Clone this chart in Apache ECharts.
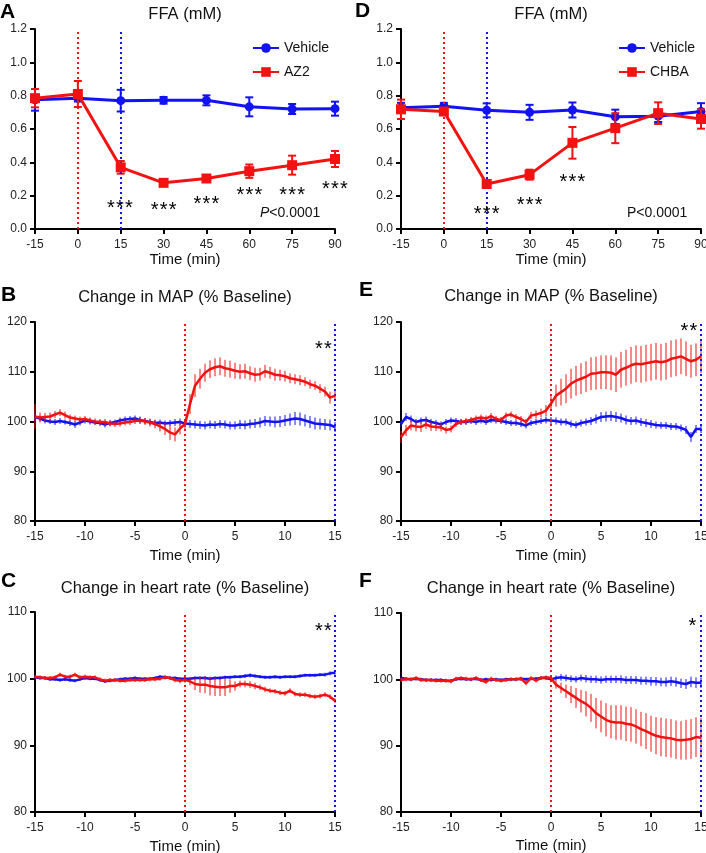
<!DOCTYPE html>
<html><head><meta charset="utf-8">
<script src="https://cdn.jsdelivr.net/npm/echarts@6/dist/echarts.min.js"></script>
<style>html,body{margin:0;padding:0;background:#fff}#c{width:706px;height:853px}</style>
</head><body><div id="c"></div><script>
const FONT = 'Liberation Sans, Arial, Helvetica, sans-serif';
const BLUE = '#1212f2';
const RED = '#f21212';

// ---- FFA panels (A, D) ----
const ffaTimes = [-15, 0, 15, 30, 45, 60, 75, 90];
const ffaVehA = [0.775, 0.785, 0.77, 0.772, 0.772, 0.733, 0.72, 0.722];
const ffaVehAErr = [0.065, 0.02, 0.065, 0.02, 0.03, 0.057, 0.03, 0.042];
const ffaAZ2 = [0.785, 0.81, 0.37, 0.277, 0.303, 0.347, 0.383, 0.42];
const ffaAZ2Err = [0.055, 0.078, 0.038, 0.012, 0.012, 0.04, 0.057, 0.048];
const ffaVehD = [0.727, 0.737, 0.712, 0.70, 0.714, 0.673, 0.677, 0.705];
const ffaVehDErr = [0.03, 0.02, 0.042, 0.045, 0.045, 0.043, 0.035, 0.05];
const ffaCHBA = [0.718, 0.705, 0.27, 0.326, 0.517, 0.605, 0.695, 0.66];
const ffaCHBAErr = [0.058, 0.02, 0.015, 0.03, 0.095, 0.09, 0.065, 0.058];

// ---- time course panels (B, C, E, F) ----
const times = [-15,-14.5,-14,-13.5,-13,-12.5,-12,-11.5,-11,-10.5,-10,-9.5,-9,-8.5,-8,-7.5,-7,-6.5,-6,-5.5,-5,-4.5,-4,-3.5,-3,-2.5,-2,-1.5,-1,-0.5,0,0.5,1,1.5,2,2.5,3,3.5,4,4.5,5,5.5,6,6.5,7,7.5,8,8.5,9,9.5,10,10.5,11,11.5,12,12.5,13,13.5,14,14.5,15];

const mapVehB = [100.9,100.6,100.2,100.0,99.9,100.1,99.9,99.7,99.4,99.8, 100.2,100.0,99.8,99.7,99.4,99.7,99.9,100.2,100.4,100.5, 100.6,100.3,100.1,99.9,99.7,99.8,99.6,99.7,99.8,99.9, 99.6,99.5,99.4,99.3,99.2,99.4,99.3,99.5,99.4,99.2, 99.2,99.4,99.3,99.5,99.6,99.8,100.1,100.0,99.9,100.0, 100.2,100.4,100.6,100.5,100.2,99.9,99.6,99.5,99.4,99.3, 98.9];
const mapVehBErr = [0.8,0.6,0.6,0.5,0.6,0.6,0.5,0.6,0.7,0.6, 0.6,0.6,0.5,0.6,0.6,0.6,0.5,0.6,0.6,0.6, 0.6,0.7,0.6,0.6,0.6,0.6,0.6,0.6,0.7,0.7, 0.7,0.8,0.8,0.8,0.8,0.8,0.8,0.8,0.8,0.8, 0.8,0.9,0.9,0.9,0.9,1.0,1.0,1.0,1.1,1.1, 1.1,1.2,1.3,1.3,1.2,1.2,1.2,1.1,1.1,1.1, 1.0];
const mapAZ2 = [101.0,100.8,100.9,101.0,101.4,101.8,101.3,100.8,100.6,100.4, 100.5,100.2,100.0,99.9,99.9,99.6,99.5,99.6,99.8,99.9, 100.1,100.2,100.0,99.8,99.5,99.0,98.5,97.8,97.4,98.6, 99.5,103.5,107.2,108.6,109.8,110.5,110.9,111.1,110.7,110.5, 110.2,110.0,110.1,109.7,109.4,109.5,110.1,109.8,109.4,109.3, 109.1,108.7,108.5,108.3,108.0,107.5,107.2,106.6,106.0,104.8, 105.2];
const mapAZ2Err = [2.5,1.0,0.8,0.8,0.7,0.7,0.7,0.6,0.6,0.6, 0.6,0.6,0.6,0.6,0.6,0.6,0.6,0.6,0.6,0.6, 0.6,0.7,0.7,0.8,0.9,1.0,1.2,1.5,1.4,1.2, 1.0,2.0,2.3,2.0,1.8,1.8,1.8,1.8,1.7,1.7, 1.6,1.5,1.5,1.4,1.4,1.3,1.3,1.2,1.2,1.1, 1.1,1.0,1.0,1.0,0.9,0.9,0.9,0.9,1.0,1.2, 1.0];

const mapVehE = [99.5,100.9,100.5,99.9,100.2,100.3,99.9,99.7,99.4,99.9, 100.2,100.1,99.9,99.9,100.1,99.9,100.2,99.9,100.3,100.2, 100.1,99.9,99.7,99.7,99.5,99.2,99.7,99.9,100.1,100.3, 100.2,100.1,99.9,99.9,99.5,99.3,99.7,99.9,100.1,100.5, 100.9,101.0,101.1,100.9,100.7,100.3,100.1,100.2,99.9,99.7, 99.5,99.3,99.2,99.2,99.0,99.0,98.7,98.3,96.9,98.5, 98.5];
const mapVehEErr = [0.6,0.8,0.7,0.6,0.6,0.7,0.6,0.6,0.6,0.6, 0.6,0.6,0.6,0.6,0.6,0.6,0.6,0.6,0.6,0.6, 0.6,0.6,0.6,0.6,0.6,0.6,0.6,0.6,0.6,0.7, 0.7,0.7,0.7,0.7,0.7,0.7,0.7,0.7,0.8,0.9, 1.0,1.0,1.0,1.0,0.9,0.9,0.8,0.8,0.8,0.8, 0.8,0.7,0.7,0.7,0.7,0.7,0.7,0.8,1.0,0.8, 0.8];
const mapCHBA = [96.9,98.2,99.2,99.0,98.9,99.4,99.0,98.9,98.8,98.3, 98.5,99.5,99.9,100.1,100.3,100.6,100.8,100.6,101.1,100.5, 100.3,101.2,101.4,100.9,100.5,99.9,101.2,101.4,101.7,102.2, 103.6,105.2,105.9,106.6,107.6,108.2,108.6,109.0,109.6,109.7, 109.9,109.9,109.8,109.4,110.4,110.8,111.3,111.6,111.5,111.7, 111.9,112.1,111.9,112.1,112.6,112.8,113.1,112.6,112.1,112.4, 113.1];
const mapCHBAErr = [1.2,1.1,1.0,1.0,1.0,0.9,0.9,0.8,0.8,0.7, 0.7,0.6,0.6,0.6,0.6,0.6,0.6,0.6,0.6,0.6, 0.6,0.6,0.6,0.6,0.6,0.6,0.7,0.8,0.9,1.1, 1.5,2.2,2.7,2.9,3.0,3.0,3.1,3.1,3.3,3.3, 3.4,3.4,3.5,3.5,3.6,3.6,3.7,3.7,3.7,3.7, 3.7,3.7,3.7,3.7,3.7,3.7,3.6,3.5,3.3,3.3, 3.4];

const hrVehC = [100.2,100.1,100.1,99.9,99.9,99.8,99.9,99.8,99.7,99.9, 100.1,100.0,100.0,99.8,99.6,99.7,99.8,99.9,100.0,100.0, 100.1,100.0,100.0,100.0,100.1,100.3,100.2,100.1,100.1,100.0, 100.0,100.0,100.1,100.1,100.1,100.0,100.1,100.1,100.2,100.2, 100.3,100.3,100.4,100.5,100.4,100.3,100.2,100.2,100.3,100.2, 100.3,100.3,100.3,100.4,100.5,100.5,100.5,100.6,100.6,100.8, 100.9];
const hrVehCErr = [0.3,0.25,0.25,0.25,0.25,0.25,0.25,0.3,0.25,0.25, 0.25,0.25,0.25,0.25,0.25,0.25,0.25,0.25,0.25,0.25, 0.25,0.25,0.25,0.25,0.25,0.25,0.3,0.25,0.25,0.25, 0.25,0.25,0.25,0.25,0.25,0.25,0.25,0.25,0.25,0.25, 0.25,0.25,0.3,0.3,0.25,0.25,0.25,0.25,0.25,0.25, 0.25,0.25,0.25,0.25,0.25,0.25,0.25,0.25,0.3,0.3, 0.3];
const hrAZ2 = [100.3,100.2,100.1,100.1,100.2,100.6,100.3,100.3,100.6,100.2, 100.3,100.2,100.2,99.9,99.7,99.8,99.8,99.7,99.7,99.8, 99.8,99.8,99.8,99.9,99.9,100.0,100.2,100.1,99.8,99.7, 99.8,99.6,99.2,99.1,99.1,98.9,98.8,98.7,98.7,98.9, 98.9,99.2,99.2,99.1,98.9,98.7,98.4,98.2,98.1,97.9, 97.8,98.2,97.7,97.6,97.6,97.4,97.3,97.4,97.6,97.3, 96.7];
const hrAZ2Err = [0.3,0.3,0.3,0.3,0.3,0.3,0.3,0.3,0.3,0.3, 0.3,0.3,0.3,0.3,0.3,0.3,0.3,0.3,0.3,0.3, 0.3,0.3,0.3,0.3,0.3,0.3,0.3,0.3,0.35,0.4, 0.4,0.6,0.9,1.2,1.3,1.4,1.4,1.3,1.3,1.0, 0.7,0.5,0.5,0.5,0.5,0.4,0.4,0.35,0.35,0.35, 0.35,0.35,0.35,0.35,0.35,0.35,0.35,0.35,0.35,0.35, 0.35];

const hrVehF = [100.2,100.1,100.0,100.1,100.0,99.9,99.9,99.9,99.9,99.8, 99.8,100.0,100.1,100.0,100.0,100.1,99.9,100.0,99.9,100.0, 99.9,100.0,100.0,100.0,100.1,100.0,100.1,100.1,100.2,100.2, 100.0,100.2,100.3,100.2,100.1,100.0,100.2,100.1,100.0,100.0, 99.9,100.0,100.0,100.0,100.0,99.9,99.9,99.9,99.8,99.8, 99.7,99.7,99.6,99.6,99.7,99.6,99.4,99.3,99.6,99.5, 99.5];
const hrVehFErr = [0.25,0.25,0.25,0.25,0.25,0.25,0.25,0.25,0.25,0.25, 0.25,0.25,0.25,0.25,0.25,0.25,0.25,0.25,0.25,0.25, 0.25,0.25,0.25,0.25,0.25,0.25,0.25,0.25,0.25,0.3, 0.3,0.4,0.5,0.5,0.5,0.5,0.5,0.55,0.55,0.55, 0.55,0.55,0.55,0.55,0.6,0.6,0.6,0.6,0.6,0.6, 0.65,0.65,0.65,0.7,0.7,0.7,0.7,0.75,0.8,0.8, 0.8];
const hrCHBA = [99.9,100.0,100.0,100.2,99.9,99.9,99.9,99.8,99.8,99.8, 99.7,100.1,100.2,100.1,100.0,100.2,99.9,99.6,100.1,99.9, 99.8,99.9,100.0,100.0,100.1,99.4,100.2,99.8,100.2,100.3, 100.2,99.2,98.7,98.2,97.7,97.2,96.7,96.3,95.7,94.9, 94.4,93.9,93.6,93.5,93.5,93.3,93.2,92.9,92.5,92.2, 91.8,91.5,91.3,91.2,91.1,90.9,90.8,90.9,91.0,91.3, 91.2];
const hrCHBAErr = [0.3,0.3,0.3,0.3,0.3,0.3,0.3,0.3,0.3,0.3, 0.3,0.3,0.3,0.3,0.3,0.3,0.3,0.3,0.3,0.3, 0.3,0.3,0.3,0.3,0.3,0.3,0.3,0.3,0.3,0.3, 0.4,0.6,0.8,1.0,1.3,1.5,1.7,1.9,2.1,2.3, 2.4,2.5,2.5,2.6,2.6,2.6,2.6,2.6,2.6,2.7, 2.7,2.8,2.9,2.9,2.9,2.9,2.9,3.0,3.0,3.0, 3.0];

// ---- layout ----
const grids = [
  {left: 35, top: 29, width: 300, height: 200},   // A
  {left: 401, top: 29, width: 300, height: 200},  // D
  {left: 35, top: 322, width: 300, height: 199},  // B
  {left: 401, top: 322, width: 300, height: 199}, // E
  {left: 35, top: 612, width: 300, height: 200},  // C
  {left: 401, top: 613, width: 300, height: 199}  // F
].map(g => Object.assign({containLabel: false, outerBoundsMode: 'none'}, g));

function xAx(i, min, max, interval, gap) {
  return {gridIndex: i, type: 'value', min: min, max: max, interval: interval,
    name: 'Time (min)', nameLocation: 'middle', nameGap: gap,
    nameTextStyle: {fontSize: 15, color: '#111', fontFamily: FONT},
    axisLine: {onZero: false, lineStyle: {color: '#000', width: 2}},
    axisTick: {length: 5, lineStyle: {color: '#000', width: 2}},
    axisLabel: {fontSize: 12, color: '#222', margin: 10, fontFamily: FONT},
    splitLine: {show: false}};
}
function yAx(i, min, max, interval, fmt) {
  return {gridIndex: i, type: 'value', min: min, max: max, interval: interval,
    axisLine: {show: true, onZero: false, lineStyle: {color: '#000', width: 2}},
    axisTick: {show: true, length: 5, lineStyle: {color: '#000', width: 2}},
    axisLabel: {fontSize: 12, color: '#222', margin: 8, fontFamily: FONT, formatter: fmt},
    splitLine: {show: false}};
}
const f1 = v => v.toFixed(1);

function errSeries(i, xs, vals, errs, color, width, cap, z) {
  return {type: 'custom', xAxisIndex: i, yAxisIndex: i, z: z, silent: true,
    data: xs.map((t, k) => [t, vals[k], errs[k]]),
    encode: {x: 0, y: 1},
    renderItem: function (params, api) {
      const x = api.value(0), y = api.value(1), e = api.value(2);
      const top = api.coord([x, y + e]);
      const bot = api.coord([x, y - e]);
      const st = {stroke: color, lineWidth: width};
      const ch = [{type: 'line', shape: {x1: top[0], y1: top[1], x2: bot[0], y2: bot[1]}, style: st}];
      if (cap) {
        ch.push({type: 'line', shape: {x1: top[0] - cap, y1: top[1], x2: top[0] + cap, y2: top[1]}, style: st});
        ch.push({type: 'line', shape: {x1: bot[0] - cap, y1: bot[1], x2: bot[0] + cap, y2: bot[1]}, style: st});
      }
      return {type: 'group', children: ch};
    }};
}
function vline(x, color) {
  return {silent: true, symbol: ['none', 'none'], label: {show: false},
    lineStyle: {type: [2, 3], width: 2, color: color}, data: [{xAxis: x}], animation: false};
}
function ffaLine(i, name, vals, color, symbol, size, z, mark) {
  const s = {type: 'line', name: name, xAxisIndex: i, yAxisIndex: i, z: z,
    data: ffaTimes.map((t, k) => [t, vals[k]]),
    symbol: symbol, symbolSize: size, showSymbol: true,
    lineStyle: {color: color, width: 3}, itemStyle: {color: color}};
  if (mark) s.markLine = mark;
  return s;
}
function tsLine(i, vals, color, z, mark) {
  const s = {type: 'line', xAxisIndex: i, yAxisIndex: i, z: z, silent: true,
    data: times.map((t, k) => [t, vals[k]]), symbol: 'none', showSymbol: false,
    lineStyle: {color: color, width: 2.5}};
  if (mark) s.markLine = mark;
  return s;
}

const series = [
  // A
  errSeries(0, ffaTimes, ffaVehA, ffaVehAErr, BLUE, 2, 4, 2),
  ffaLine(0, 'Vehicle', ffaVehA, BLUE, 'circle', 9, 3, vline(15, BLUE)),
  errSeries(0, ffaTimes, ffaAZ2, ffaAZ2Err, RED, 2, 4, 4),
  ffaLine(0, 'AZ2', ffaAZ2, RED, 'rect', 10, 5, vline(0, RED)),
  // D
  errSeries(1, ffaTimes, ffaVehD, ffaVehDErr, BLUE, 2, 4, 2),
  ffaLine(1, 'Vehicle', ffaVehD, BLUE, 'circle', 9, 3, vline(15, BLUE)),
  errSeries(1, ffaTimes, ffaCHBA, ffaCHBAErr, RED, 2, 4, 4),
  ffaLine(1, 'CHBA', ffaCHBA, RED, 'rect', 10, 5, vline(0, RED)),
  // B
  errSeries(2, times, mapVehB, mapVehBErr, BLUE, 1, 0, 2),
  tsLine(2, mapVehB, BLUE, 3, vline(15, BLUE)),
  errSeries(2, times, mapAZ2, mapAZ2Err, RED, 1, 0, 4),
  tsLine(2, mapAZ2, RED, 5, vline(0, RED)),
  // E
  errSeries(3, times, mapVehE, mapVehEErr, BLUE, 1, 0, 2),
  tsLine(3, mapVehE, BLUE, 3, vline(15, BLUE)),
  errSeries(3, times, mapCHBA, mapCHBAErr, RED, 1, 0, 4),
  tsLine(3, mapCHBA, RED, 5, vline(0, RED)),
  // C
  errSeries(4, times, hrVehC, hrVehCErr, BLUE, 1, 0, 2),
  tsLine(4, hrVehC, BLUE, 3, vline(15, BLUE)),
  errSeries(4, times, hrAZ2, hrAZ2Err, RED, 1, 0, 4),
  tsLine(4, hrAZ2, RED, 5, vline(0, RED)),
  // F
  errSeries(5, times, hrVehF, hrVehFErr, BLUE, 1, 0, 2),
  tsLine(5, hrVehF, BLUE, 3, vline(15, BLUE)),
  errSeries(5, times, hrCHBA, hrCHBAErr, RED, 1, 0, 4),
  tsLine(5, hrCHBA, RED, 5, vline(0, RED))
];

function txt(x, y, text, size, opts) {
  return {type: 'text', x: x, y: y, z: 100, silent: true,
    style: Object.assign({text: text, fontSize: size, fontFamily: FONT, fill: '#111',
      align: 'center', verticalAlign: 'middle'}, opts || {})};
}
// significance stars: n separate glyphs centred on (x, y), spaced 9px apart
function stars(x, y, n) {
  const out = [];
  for (let k = 0; k < n; k++) {
    out.push(txt(x + (k - (n - 1) / 2) * 9, y, '*', 20, {fill: '#000'}));
  }
  return out;
}
const bold = {fontWeight: 'bold', align: 'left', fill: '#000'};
const graphics = [
  txt(0, 12, 'A', 21, bold), txt(355, 11, 'D', 21, bold),
  txt(1, 295, 'B', 21, bold), txt(359, 290, 'E', 21, bold),
  txt(1, 581, 'C', 21, bold), txt(359, 581, 'F', 21, bold),
  txt(185, 14, 'FFA (mM)', 16.5), txt(551, 14, 'FFA (mM)', 16.5),
  txt(185, 297, 'Change in MAP (% Baseline)', 16.5), txt(551, 296, 'Change in MAP (% Baseline)', 16.5),
  txt(185, 588, 'Change in heart rate (% Baseline)', 16.5), txt(551, 588, 'Change in heart rate (% Baseline)', 16.5),
  ...stars(120, 208, 3), ...stars(163.6, 210, 3), ...stars(206.4, 204.5, 3),
  ...stars(249.3, 195.7, 3), ...stars(292.1, 195.7, 3), ...stars(335, 189, 3),
  ...stars(486.7, 214, 3), ...stars(529.6, 205, 3), ...stars(572.4, 182.3, 3),
  ...stars(323.3, 349, 2), ...stars(688.8, 331, 2),
  ...stars(323.3, 631.7, 2), ...stars(692.3, 626.7, 1),
  txt(260, 213, '{i|P}<0.0001', 14, {align: 'left', rich: {i: {fontStyle: 'italic', fontSize: 14, fontFamily: FONT, fill: '#111'}}}),
  txt(627, 213, 'P<0.0001', 14, {align: 'left'})
];

const legendBase = {orient: 'vertical', itemGap: 10, itemWidth: 26, itemHeight: 12, padding: 0,
  textStyle: {fontSize: 14, color: '#111', fontFamily: FONT}, selectedMode: false};

const chart = echarts.init(document.getElementById('c'), null, {renderer: 'canvas'});
chart.setOption({
  animation: false,
  backgroundColor: '#fff',
  textStyle: {fontFamily: FONT},
  grid: grids,
  xAxis: [xAx(0, -15, 90, 15, 21), xAx(1, -15, 90, 15, 21), xAx(2, -15, 15, 5, 27),
          xAx(3, -15, 15, 5, 27), xAx(4, -15, 15, 5, 27), xAx(5, -15, 15, 5, 26)],
  yAxis: [yAx(0, 0, 1.2, 0.2, f1), yAx(1, 0, 1.2, 0.2, f1), yAx(2, 80, 120, 10),
          yAx(3, 80, 120, 10), yAx(4, 80, 110, 10), yAx(5, 80, 110, 10)],
  legend: [
    Object.assign({left: 252, top: 41, data: ['Vehicle', 'AZ2']}, legendBase),
    Object.assign({left: 618, top: 41, data: ['Vehicle', 'CHBA']}, legendBase)
  ],
  series: series,
  graphic: graphics
});
</script></body></html>
